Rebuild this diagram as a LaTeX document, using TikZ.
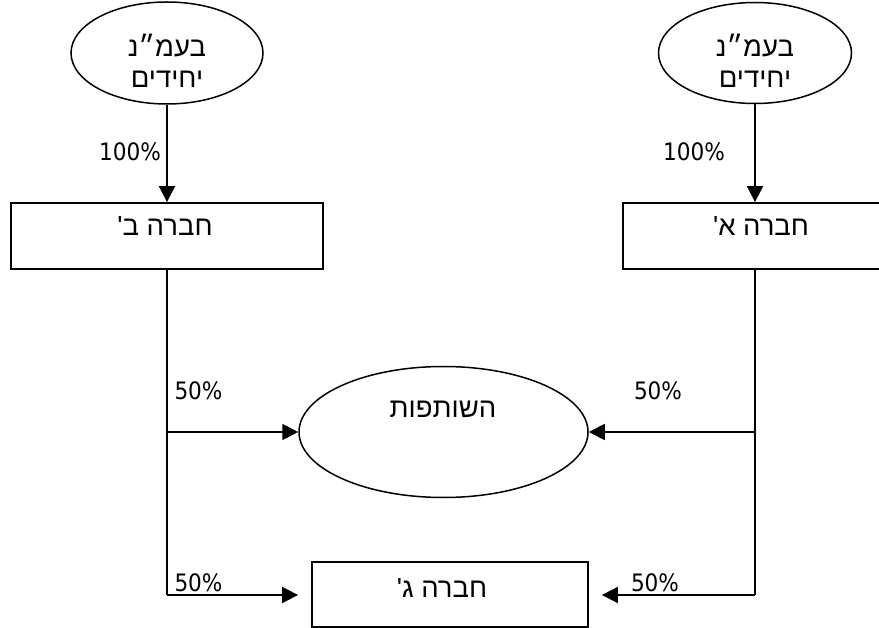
\documentclass[tikz,border=0pt]{standalone}
\usepackage{fontspec}
\setmainfont{DejaVu Sans}
\newfontfamily\hebfont[Script=Hebrew]{Liberation Sans}
\newfontfamily\numfont{DejaVu Sans Condensed}
\TeXXeTstate=1
\usetikzlibrary{shapes.geometric,arrows.meta}
\tikzset{
  ln/.style={line width=1.8pt},
  arr/.style={ln,-{Triangle[length=16pt,width=16pt]}},
  oval/.style={draw,ellipse,line width=1.5pt,inner sep=0pt},
  boxn/.style={draw,rectangle,line width=1.8pt,inner sep=0pt},
  heb/.style={font=\hebfont\fontsize{27.5}{31}\selectfont,align=center,inner sep=0pt},
  pct/.style={font=\numfont\fontsize{24}{28}\selectfont,inner sep=0pt},
}
\newcommand{\gsh}{\symbol{39}}
\begin{document}
\begin{tikzpicture}[x=1pt,y=-1pt]
\useasboundingbox (0,0) rectangle (879,628);
\clip (0,0) rectangle (879,628);
% shapes
\node[oval,minimum width=192pt,minimum height=102pt] (e1) at (167,53) {};
\node[oval,minimum width=193pt,minimum height=101pt] (e2) at (755,53) {};
\node[boxn,minimum width=312pt,minimum height=66pt] (b) at (167,236) {};
\node[boxn,minimum width=264pt,minimum height=66pt] (a) at (755,236) {};
\node[oval,minimum width=289pt,minimum height=131pt] (p) at (443.5,432) {};
\node[boxn,minimum width=276pt,minimum height=65pt] (c) at (450,594.5) {};
% texts
\node[heb] (te1) at (167,61) {\beginR בעמ״נ\endR\\\beginR יחידים\endR};
\node[heb] (te2) at (755,61) {\beginR בעמ״נ\endR\\\beginR יחידים\endR};
\node[heb] (tb) at (165,226) {\beginR חברה ב\gsh\endR};
\node[heb] (ta) at (761,226) {\beginR חברה א\gsh\endR};
\node[heb] (tp) at (443,409) {\beginR השותפות\endR};
\node[heb] (tc) at (442,588) {\beginR חברה ג\gsh\endR};
% percentages
\node[pct] (l1) at (130,152) {100\%};
\node[pct] (l2) at (694,152) {100\%};
\node[pct] (l3) at (198.5,391) {50\%};
\node[pct] (l4) at (198.5,583) {50\%};
\node[pct] (l5) at (658,391) {50\%};
\node[pct] (l6) at (655,583) {50\%};
% junctions
\coordinate (jb1) at (167,432);
\coordinate (jb2) at (167,595);
\coordinate (ja1) at (755,432);
\coordinate (ja2) at (755,595);
% connectors
\draw[arr] (e1.south) -- (b.north);
\draw[arr] (e2.south) -- (a.north);
\draw[ln] (b.south) -- (jb2);
\draw[ln] (a.south) -- (ja2);
\draw[arr] (jb1) -- (p.west);
\draw[arr] (ja1) -- (p.east);
\draw[arr,shorten >=13pt] (jb2) -- (c.west |- jb2);
\draw[arr,shorten >=13pt] (ja2) -- (c.east |- ja2);
\end{tikzpicture}
\end{document}
